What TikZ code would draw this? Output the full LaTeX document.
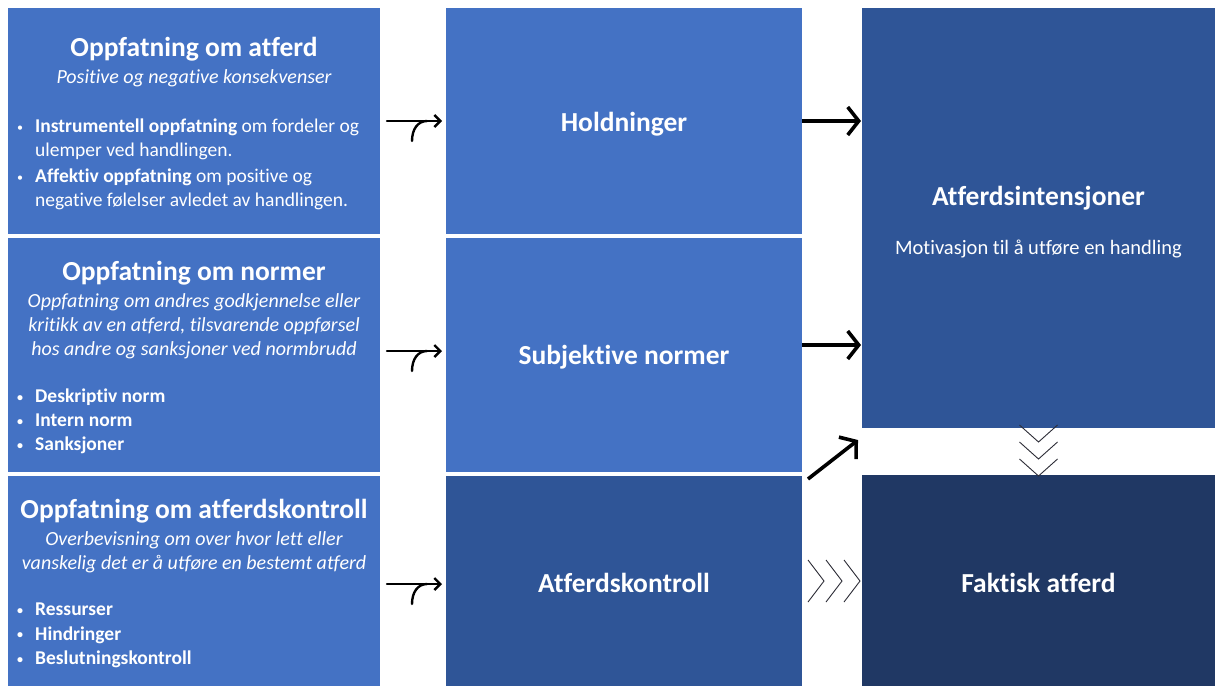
\documentclass[tikz,border=0pt]{standalone}
\usepackage{fontspec}
\setmainfont{Carlito}[Ligatures={NoCommon,NoContextual}]
\usepackage{tikz}
\usetikzlibrary{positioning,arrows.meta,calc}
\usepackage{xcolor}

\definecolor{boxlight}{RGB}{68,114,196}
\definecolor{boxmid}{RGB}{47,85,151}
\definecolor{boxdark}{RGB}{32,56,100}
\definecolor{chevgray}{RGB}{45,45,55}

% bullet and hanging indent for the lists
\newcommand{\bul}{\makebox[20pt][l]{\hspace{2pt}\raisebox{1.5pt}{\fontsize{12}{12}\selectfont\textbullet}}}
\newcommand{\ind}{\hspace*{20pt}}

\tikzset{
  boxfill/.style={fill=#1, inner sep=0pt, outer sep=0pt},
  headtext/.style={text=white, font=\fontsize{27.5}{32}\selectfont\bfseries},
  subtext/.style={text=white, align=center, font=\fontsize{20}{24}\selectfont\itshape},
  listtext/.style={text=white, align=left, anchor=north west, inner sep=0pt,
    font=\fontsize{19.5}{24}\selectfont},
  nametext/.style={text=white, font=\fontsize{27.5}{32}\selectfont\bfseries},
  thinarrow/.style={line width=2.4pt, line cap=round,
    -{Straight Barb[length=6pt,width=12pt]}, shorten <=7pt, shorten >=4pt},
  tailline/.style={line width=2.4pt, line cap=round},
  thickarrow/.style={line width=3.6pt, -{Straight Barb[length=11pt,width=28pt]}},
  chev/.style={chevgray, line width=0.9pt},
}

\begin{document}
\begin{tikzpicture}[x=1pt,y=-1pt]
\useasboundingbox (0,0) rectangle (1215,686);
\fill[white] (0,0) rectangle (1215,686);

% left column
\node[boxfill=boxlight, minimum width=372pt, minimum height=226pt] (ob1) at (194,121) {};
\node[boxfill=boxlight, minimum width=372pt, minimum height=234pt] (ob2) at (194,355) {};
\node[boxfill=boxlight, minimum width=372pt, minimum height=210pt] (ob3) at (194,581) {};

% middle column
\node[boxfill=boxlight, minimum width=356pt, minimum height=226pt] (hold) at (624,121) {};
\node[boxfill=boxlight, minimum width=356pt, minimum height=234pt] (subj) at (624,355) {};
\node[boxfill=boxmid, minimum width=356pt, minimum height=210pt] (kontroll) at (624,581) {};
\node[nametext] (holdtxt) at (624,124) {Holdninger};
\node[nametext] (subjtxt) at (624,357) {Subjektive normer};
\node[nametext] (kontrolltxt) at (624,583) {Atferdskontroll};

% right column
\node[boxfill=boxmid, minimum width=353pt, minimum height=420pt] (intens) at (1038.5,218) {};
\node[boxfill=boxdark, minimum width=353pt, minimum height=211pt] (faktisk) at (1038.5,580.5) {};
\node[nametext] (faktisktxt) at (1038.5,583) {Faktisk atferd};
\node[nametext] (intenshead) at (1038.5,198) {Atferdsintensjoner};
\node[text=white, font=\fontsize{20.5}{24}\selectfont] (intenssub) at (1038.5,249) {Motivasjon til å utføre en handling};

% texts of the left boxes
\node[headtext] (head1) at (194,49) {Oppfatning om atferd};
\node[subtext] (sub1) at (194,78) {Positive og negative konsekvenser};
\node[listtext] (list1) at (15,119) {\bul\textbf{Instrumentell oppfatning} om fordeler og\\
  \ind ulemper ved handlingen.\\[2pt]
  \bul\textbf{Affektiv oppfatning} om positive og\\
  \ind negative følelser avledet av handlingen.};

\node[headtext] (head2) at (194,273) {Oppfatning om normer};
\node[subtext] (sub2) at (194,326) {Oppfatning om andres godkjennelse eller\\
  kritikk av en atferd, tilsvarende oppførsel\\
  hos andre og sanksjoner ved normbrudd};
\node[listtext, font=\fontsize{19.5}{24}\selectfont\bfseries] (list2) at (15,389) {\bul Deskriptiv norm\\
  \bul Intern norm\\
  \bul Sanksjoner};

\node[headtext] (head3) at (194,511) {Oppfatning om atferdskontroll};
\node[subtext] (sub3) at (194,552) {Overbevisning om over hvor lett eller\\
  vanskelig det er å utføre en bestemt atferd};
\node[listtext, font=\fontsize{19.5}{24.5}\selectfont\bfseries] (list3) at (15,603) {\bul Ressurser\\
  \bul Hindringer\\
  \bul Beslutningskontroll};

% arrows left -> middle
\coordinate (m1) at ($(ob1.east)!0.5!(hold.west)$);
\coordinate (m2) at ($(ob2.east)!0.5!(subj.west)$);
\coordinate (m3) at ($(ob3.east)!0.5!(kontroll.west)$);
\draw[thinarrow] (ob1.east) -- (hold.west);
\draw[tailline] ($(m1)+(-1,20)$) .. controls ($(m1)+(-1,8)$) and ($(m1)+(5,0)$) .. ($(m1)+(14,0)$);
\draw[thinarrow] ([shift={(0,-4)}]ob2.east) -- ([shift={(0,-4)}]subj.west);
\draw[tailline] ($(m2)+(-1,16)$) .. controls ($(m2)+(-1,4)$) and ($(m2)+(5,-4)$) .. ($(m2)+(14,-4)$);
\draw[thinarrow] ([shift={(0,3)}]ob3.east) -- ([shift={(0,3)}]kontroll.west);
\draw[tailline] ($(m3)+(-1,23)$) .. controls ($(m3)+(-1,11)$) and ($(m3)+(5,3)$) .. ($(m3)+(14,3)$);

% arrows middle -> right
\draw[thickarrow, shorten >=1pt] (hold.east) -- (hold.east -| intens.west);
\draw[thickarrow, shorten >=1pt] ([shift={(0,-10)}]subj.east) -- ([shift={(0,-10)}]subj.east -| intens.west);
\draw[thickarrow] ([shift={(6,3)}]kontroll.north east) -- ([shift={(-4,12)}]intens.south west);

% chevrons
\foreach \i in {0,1,2}
  \draw[chev] ([shift={(6+18*\i,-21)}]kontroll.east) -- ++(16,21) -- ++(-16,21);
\foreach \i in {0,1,2}
  \draw[chev] ([shift={(-19,-3+17*\i)}]intens.south) -- ++(19,17) -- ++(19,-17);
\end{tikzpicture}
\end{document}
